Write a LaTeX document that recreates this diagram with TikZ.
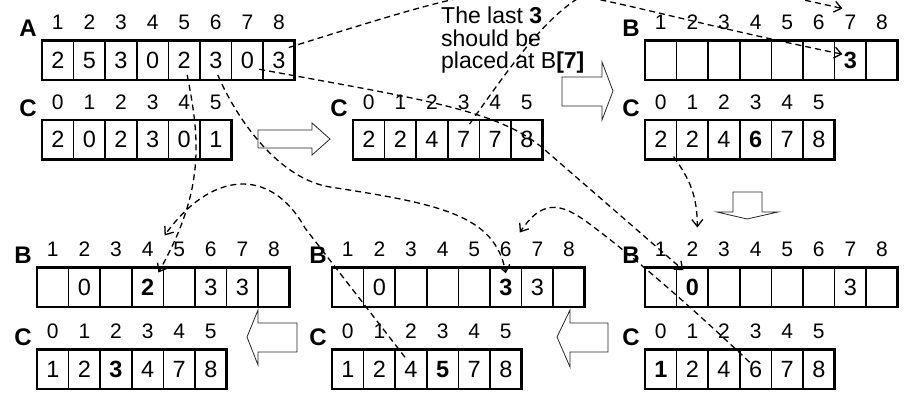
\documentclass[tikz,border=0pt]{standalone}
\usepackage{fontspec}
\setmainfont{Liberation Sans}
\usetikzlibrary{arrows.meta}

\newcommand{\cellrow}[7]{%
  \node[rowname] (#1-n) at (#3-14,#4-12) {#2};
  \foreach \val [count=\k] in {#7} {
    \pgfmathtruncatemacro{\j}{\k+#5-1}
    \node[cellbox] (#1-\j) at ({#3+(\k-0.5)*31.6},{#4+19.75}) {\val};
    \node[idxlabel] (#1-\j-i) at ({#3+(\k-0.5)*31.6},{#4-18}) {\j};
  }
  \draw[rowframe] (#1-#5.north west) rectangle (#1-#6.south east);
}

\begin{document}
\begin{tikzpicture}[x=1pt,y=-1pt,
    cellbox/.style={draw,line width=1.5pt,minimum width=31.6pt,minimum height=39.5pt,
      inner sep=0pt,outer sep=0pt,font=\fontsize{23.5}{23.5}\selectfont},
    idxlabel/.style={inner sep=0pt,font=\fontsize{21}{21}\selectfont},
    rowname/.style={inner sep=0pt,font=\bfseries\fontsize{24}{24}\selectfont},
    rowframe/.style={line width=2.8pt},
    bigarrow/.style={draw=black!85,line width=0.8pt},
    note/.style={align=left,inner sep=0pt,font=\fontsize{23}{22.5}\selectfont},
    moveline/.style={line width=1.3pt,dash pattern=on 6pt off 4pt,
      -{Straight Barb[length=7pt,width=11pt]}}]
  \useasboundingbox (0,0) rectangle (905,392);
  \cellrow{A}{A}{42}{40.5}{1}{8}{2,5,3,0,2,3,0,3}
  \cellrow{C1}{C}{42}{120}{0}{5}{2,0,2,3,0,1}
  \cellrow{C2}{C}{353}{120}{0}{5}{2,2,4,7,7,8}
  \cellrow{B1}{B}{645}{40.5}{1}{8}{{},{},{},{},{},{},\textbf{3},{}}
  \cellrow{C3}{C}{645}{120}{0}{5}{2,2,4,\textbf{6},7,8}
  \cellrow{B2}{B}{645}{267.5}{1}{8}{{},\textbf{0},{},{},{},{},3,{}}
  \cellrow{C4}{C}{645}{349.5}{0}{5}{\textbf{1},2,4,6,7,8}
  \cellrow{B3}{B}{332}{267.5}{1}{8}{{},0,{},{},{},\textbf{3},3,{}}
  \cellrow{C5}{C}{332}{349.5}{0}{5}{1,2,4,\textbf{5},7,8}
  \cellrow{B4}{B}{37}{267.5}{1}{8}{{},0,{},\textbf{2},{},3,3,{}}
  \cellrow{C6}{C}{37}{349.5}{0}{5}{1,2,\textbf{3},4,7,8}

  \draw[bigarrow] (258,130) -- (312,130) -- (312,123) -- (330,139) -- (312,155) -- (312,148) -- (258,148) -- cycle;
  \draw[bigarrow] (562,77) -- (602,77) -- (602,62) -- (613,91) -- (602,120) -- (602,106) -- (562,106) -- cycle;
  \draw[bigarrow] (733,192) -- (762,192) -- (762,212) -- (778,212) -- (747,219) -- (717,212) -- (733,212) -- cycle;
  \draw[bigarrow] (608,323) -- (570,323) -- (570,310) -- (557,337) -- (570,367) -- (570,352) -- (608,352) -- cycle;
  \draw[bigarrow] (297,323) -- (258,323) -- (258,310) -- (247,337) -- (258,365) -- (258,352) -- (297,352) -- cycle;

  \node[note,anchor=north west] (note) at (441,7) {The last \textbf{3}\\should be\\placed at B\textbf{[7]}};

  \draw[moveline] ([shift={(-6,7)}]A-8.north east) .. controls (569,-40) and (493,-18) .. ([shift={(-8,-6)}]B1-7.center);
  \draw[moveline] ([shift={(6,4)}]C2-3.north) .. controls (585,-40) and (599,-46) .. ([shift={(-8,-14)}]B1-7-i.center);
  \draw[moveline] ([shift={(-4,9)}]A-7.east) .. controls (420,99) and (500,110) .. (545,150) -- ([shift={(-9,-17)}]B2-2.center);
  \draw[moveline] ([shift={(-3,-3)}]C3-0.south east) .. controls (690,180) and (697,195) .. ([shift={(5,-22)}]B2-2-i.center);
  \draw[moveline] ([shift={(2,-5)}]A-6.south) .. controls (238,122) and (280,179) .. (330,187) .. controls (440,204) and (495,215) .. ([shift={(0,-14)}]B3-6.center);
  \draw[moveline] ([shift={(-6,-7)}]C4-3.center) .. controls (700,315) and (640,262) .. (595,228) .. controls (565,205) and (545,195) .. ([shift={(14,-17)}]B3-6-i.center);
  \draw[moveline] ([shift={(3,-5)}]A-5.south) .. controls (200,140) and (205,190) .. ([shift={(-5,5)}]B4-4.north east);
  \draw[moveline] ([shift={(-6,-12)}]C5-2.center) -- (305,228) .. controls (270,165) and (210,172) .. ([shift={(17,-14)}]B4-4-i.center);
\end{tikzpicture}
\end{document}
